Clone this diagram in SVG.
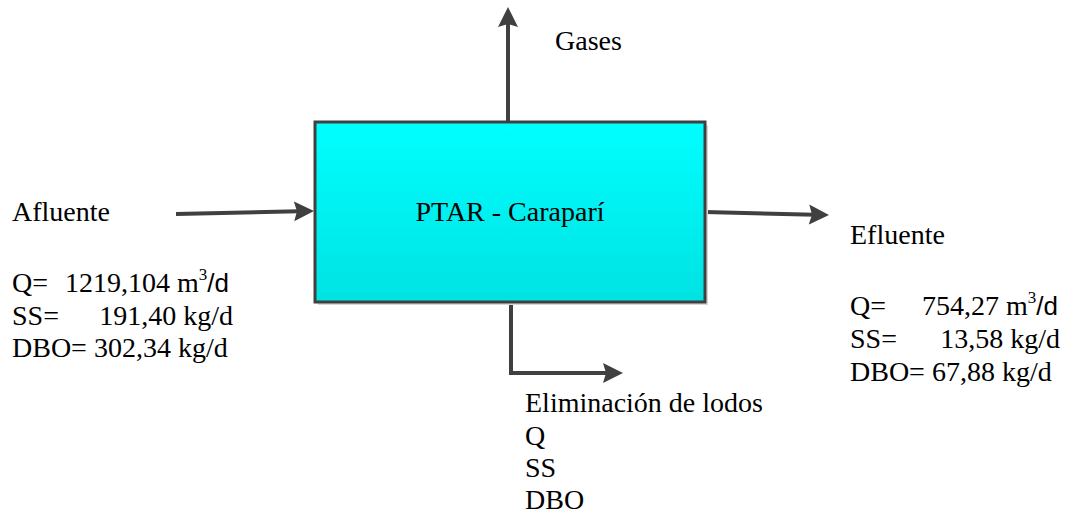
<svg xmlns="http://www.w3.org/2000/svg" width="1068" height="518" viewBox="0 0 1068 518">
<style>
text{font-family:'Liberation Serif','Times New Roman',Times,'DejaVu Serif',serif;font-size:28px;fill:#000}
.s{font-family:'Liberation Sans',Arial,sans-serif;font-size:26px}
.sup{font-size:17px}
.c{fill:none;stroke:#404040;stroke-width:4}
</style>
<defs>
<linearGradient id="g" x1="0" y1="0" x2="0" y2="1">
<stop offset="0" stop-color="#00FFFF"/>
<stop offset="1" stop-color="#00E2E2"/>
</linearGradient>
<marker id="ah" markerUnits="userSpaceOnUse" markerWidth="22" markerHeight="22" refX="16" refY="10" orient="auto" viewBox="0 0 22 20">
<path d="M0,0 L20,10 L0,20 L3,10 z" fill="#404040"/>
</marker>
</defs>
<rect width="1068" height="518" fill="#fff"/>
<g id="connectors">
<line class="c" x1="508" y1="122" x2="508" y2="11" marker-end="url(#ah)"/>
<line class="c" x1="176" y1="214" x2="310" y2="211" marker-end="url(#ah)"/>
<line class="c" x1="705" y1="212" x2="825" y2="215" marker-end="url(#ah)"/>
<polyline class="c" points="511,302 511,373 619,373" marker-end="url(#ah)"/>
</g>
<g id="ptar">
<rect x="318" y="125" width="390" height="180" fill="#d8d8d8"/>
<rect x="315" y="122" width="390" height="180" fill="url(#g)" stroke="#404040" stroke-width="3"/>
<text x="510" y="221" text-anchor="middle" font-family="Liberation Serif, serif">PTAR - Caraparí</text>
</g>
<g id="gases">
<text x="555" y="50" font-family="Liberation Serif, serif">Gases</text>
</g>
<g id="afluente" font-family="Liberation Serif, serif">
<text x="12" y="221">Afluente</text>
<text x="12" y="292">Q=<tspan x="65">1219,104 m</tspan><tspan class="sup" dy="-12">3</tspan><tspan class="s" dy="12">/d</tspan></text>
<text x="12" y="325">SS=<tspan x="233" text-anchor="end">191,40 kg/d</tspan></text>
<text x="12" y="357">DBO= 302,34 kg/d</text>
</g>
<g id="efluente">
<text x="850" y="244">Efluente</text>
<text x="850" y="315">Q=<tspan x="922">754,27 m</tspan><tspan class="sup" dy="-12">3</tspan><tspan class="s" dy="12">/d</tspan></text>
<text x="850" y="348">SS=<tspan x="1060" text-anchor="end">13,58 kg/d</tspan></text>
<text x="850" y="381">DBO= 67,88 kg/d</text>
</g>
<g id="lodos">
<text x="525" y="412">Eliminación de lodos</text>
<text x="525" y="445">Q</text>
<text x="525" y="477">SS</text>
<text x="525" y="509">DBO</text>
</g>
</svg>
